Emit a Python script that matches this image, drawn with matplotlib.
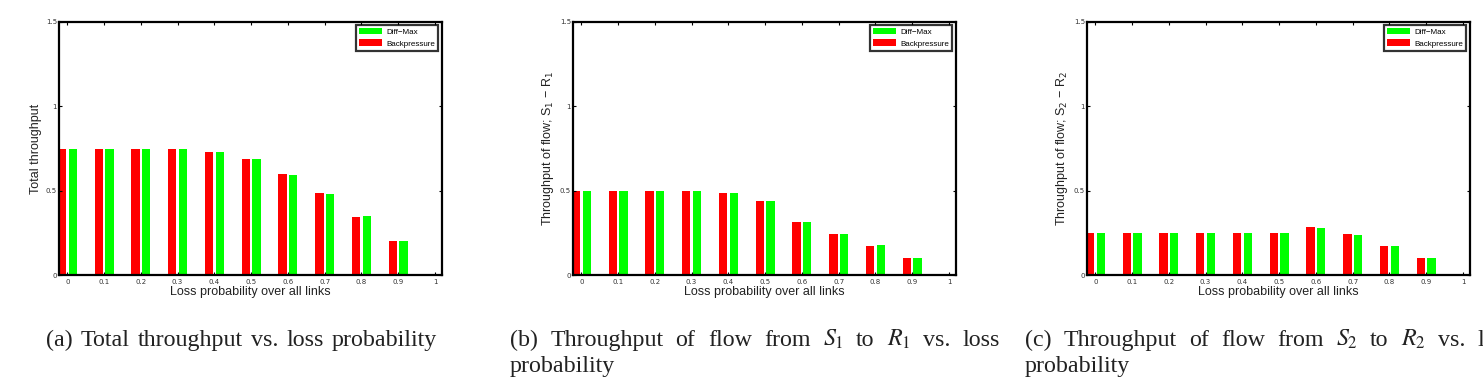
import matplotlib
matplotlib.use('Agg')
import matplotlib.pyplot as plt
import numpy as np

# loss probability over all links
loss = [0, 0.1, 0.2, 0.3, 0.4, 0.5, 0.6, 0.7, 0.8, 0.9, 1.0]

# (a) total throughput
total_diffmax = [0.75, 0.75, 0.75, 0.75, 0.73, 0.69, 0.595, 0.478, 0.349, 0.203, 0]
total_bp = [0.75, 0.75, 0.75, 0.75, 0.73, 0.685, 0.598, 0.484, 0.345, 0.199, 0]
# (b) flow S1 -> R1
flow1_diffmax = [0.5, 0.5, 0.5, 0.5, 0.489, 0.44, 0.316, 0.241, 0.178, 0.10, 0]
flow1_bp = [0.5, 0.5, 0.5, 0.5, 0.489, 0.436, 0.316, 0.241, 0.172, 0.10, 0]
# (c) flow S2 -> R2
flow2_diffmax = [0.25, 0.25, 0.25, 0.25, 0.247, 0.25, 0.28, 0.237, 0.174, 0.10, 0]
flow2_bp = [0.25, 0.25, 0.25, 0.25, 0.247, 0.25, 0.282, 0.241, 0.174, 0.10, 0]

xtick_labels = ['0', '0.1', '0.2', '0.3', '0.4', '0.5', '0.6', '0.7', '0.8', '0.9', '1']
ytick_vals = [0, 0.5, 1, 1.5]
ytick_labels = ['0', '0.5', '1', '1.5']

ylabels = ['Total throughput',
           'Throughput of flow; S$_1$ \u2212 R$_1$',
           'Throughput of flow; S$_2$ \u2212 R$_2$']

captions = [
    (['(a)', 'Total', 'throughput', 'vs.', 'loss', 'probability'], 46, 437, None),
    (['(b)', 'Throughput', 'of', 'flow', 'from', '$S_1$', 'to', '$R_1$', 'vs.', 'loss'], 510, 1000, 'probability'),
    (['(c)', 'Throughput', 'of', 'flow', 'from', '$S_2$', 'to', '$R_2$', 'vs.', 'loss'], 1025, 1515, 'probability'),
]

W, H = 1483, 389
fig = plt.figure(figsize=(W / 100, H / 100), dpi=100)

lefts = [59, 573, 1087]
bw = 0.0225
off = 0.0145
x = np.array(loss)

for i, (dm, bp) in enumerate([(total_diffmax, total_bp), (flow1_diffmax, flow1_bp), (flow2_diffmax, flow2_bp)]):
    ax = fig.add_axes([lefts[i] / W, 1 - 275 / H, 383 / W, 253 / H])
    ax.bar(x + off, dm, bw, color='#00ff00', label='Diff\u2212Max')
    ax.bar(x - off, bp, bw, color='#ff0000', label='Backpressure')
    ax.set_xlim(-0.0226, 1.019)
    ax.set_ylim(0, 1.5)
    ax.set_xticks(loss)
    ax.set_xticklabels(xtick_labels)
    ax.set_yticks(ytick_vals)
    ax.set_yticklabels(ytick_labels)
    ax.tick_params(direction='in', length=2.5, width=0.8, labelsize=5, colors='black',
                   top=True, right=True, labelcolor='#333333')
    ax.tick_params(axis='x', pad=3)
    ax.tick_params(axis='y', pad=1.5)
    for s in ax.spines.values():
        s.set_linewidth(1.6)
    ax.set_xlabel('Loss probability over all links', fontsize=9, family='Liberation Sans', color='#222222')
    ax.set_ylabel(ylabels[i], fontsize=9, family='Liberation Sans', color='#222222')
    ax.xaxis.set_label_coords(0.5, -0.042)
    ax.yaxis.set_label_coords(-0.045, 0.5)
    leg = ax.legend(loc='upper right', bbox_to_anchor=(0.99, 0.99), borderaxespad=0,
                    fancybox=False, edgecolor='black', handlelength=2.8,
                    handleheight=0.9, borderpad=0.4, labelspacing=0.45, handletextpad=0.5,
                    prop={'family': 'Liberation Sans', 'size': 5.8})
    leg.get_frame().set_linewidth(1.6)

# captions below the panels, justified like the LaTeX columns
r = fig.canvas.get_renderer()
for words, x0, x1, second in captions:
    y1 = 1 - 346 / H
    texts = [fig.text(0, y1, w, fontsize=17.3, family='Liberation Serif', va='baseline',
                      math_fontfamily='stix', color='#222222') for w in words]
    widths = [t.get_window_extent(r).width for t in texts]
    gap = (x1 - x0 - sum(widths)) / (len(words) - 1)
    pos = x0
    for t, w in zip(texts, widths):
        t.set_x(pos / W)
        pos += w + gap
    if second:
        fig.text(x0 / W, 1 - 372 / H, second, fontsize=17.3, family='Liberation Serif',
                 va='baseline', color='#222222')

fig.savefig('out.png', dpi=100)
